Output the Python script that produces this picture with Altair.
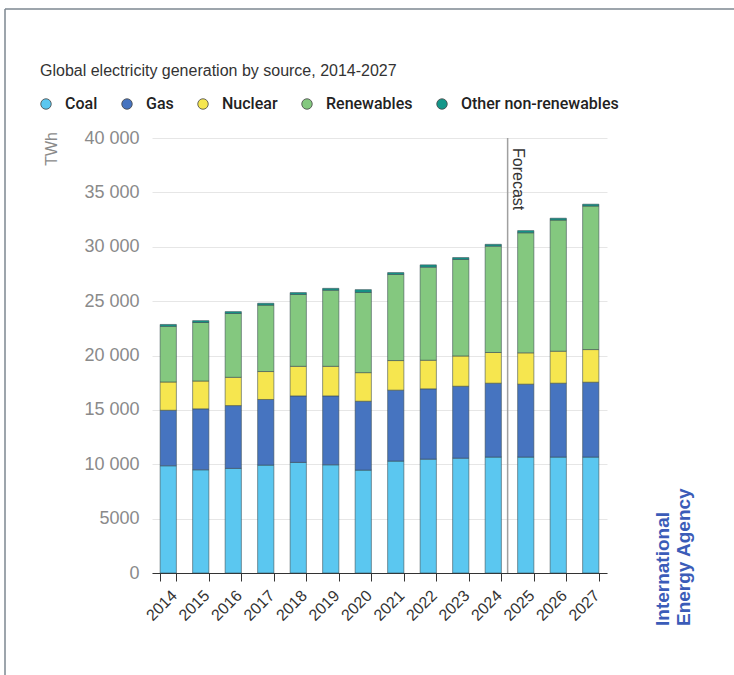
import altair as alt
import pandas as pd

years = ["2014", "2015", "2016", "2017", "2018", "2019", "2020",
         "2021", "2022", "2023", "2024", "2025", "2026", "2027"]
sources = ["Coal", "Gas", "Nuclear", "Renewables", "Other non-renewables"]
colors = ["#5bc7f0", "#4674c0", "#f6e64f", "#84c87f", "#14978a"]

coal = [9860, 9490, 9620, 9920, 10170, 9950, 9460, 10290, 10470, 10560, 10660, 10660, 10660, 10660]
gas = [5105, 5605, 5775, 6035, 6115, 6335, 6335, 6525, 6465, 6615, 6795, 6705, 6795, 6885]
nuclear = [2600, 2560, 2600, 2570, 2720, 2720, 2630, 2720, 2630, 2780, 2820, 2880, 2940, 3000]
renewables = [5120, 5380, 5870, 6110, 6610, 7000, 7380, 7920, 8560, 8880, 9780, 11040, 12060, 13200]
other = [170, 170, 170, 170, 170, 170, 250, 170, 210, 170, 170, 200, 170, 170]

y_ticks = [0, 5000, 10000, 15000, 20000, 25000, 30000, 35000, 40000]

series = [coal, gas, nuclear, renewables, other]
rows = []
for si, (src, vals) in enumerate(zip(sources, series)):
    for yr, v in zip(years, vals):
        rows.append({"year": yr, "source": src, "value": v, "order": si})
df = pd.DataFrame(rows)

W, H = 455, 435
FONT = "Liberation Sans"

x_axis = alt.Axis(title=None, labelAngle=-45, labelAlign="right",
                  labelBaseline="top", labelPadding=6,
                  labelFontSize=16, labelColor="#333333",
                  domainColor="#333333", tickColor="#333333",
                  tickSize=8, tickBand="extent", grid=False)
x_scale = alt.Scale(paddingInner=0.5, paddingOuter=0.25)

bars = alt.Chart(df).mark_bar(stroke="#37474f", strokeWidth=0.8, strokeOpacity=0.7).encode(
    x=alt.X("year:N", sort=years, scale=x_scale, axis=x_axis),
    y=alt.Y("value:Q", stack="zero",
            scale=alt.Scale(domain=[0, 40000], nice=False),
            axis=alt.Axis(title=None, values=y_ticks, grid=True,
                          gridColor="#e6e6e6", domain=False, ticks=False,
                          labelPadding=13, labelFontSize=18, labelColor="#8a8a8a",
                          labelExpr="datum.value >= 10000 ? replace(format(datum.value, ','), ',', ' ') : format(datum.value, 'd')")),
    color=alt.Color("source:N", sort=sources,
                    scale=alt.Scale(domain=sources, range=colors),
                    legend=alt.Legend(title=None, orient="none", direction="horizontal",
                                      legendX=-114, legendY=-42,
                                      symbolType="circle", symbolSize=110,
                                      symbolStrokeColor="#444444", symbolStrokeWidth=0.8,
                                      labelFontSize=16, labelFontWeight=500,
                                      labelColor="#222222", labelOffset=11,
                                      columnPadding=21, labelFont="Roboto")),
    order=alt.Order("order:Q", sort="ascending"),
)

fc_df = pd.DataFrame({"year": ["2025"], "label": ["Forecast"]})
forecast_rule = alt.Chart(fc_df).mark_rule(color="#a0a0a0", strokeWidth=1.5, xOffset=-10).encode(
    x=alt.X("year:N", sort=years, bandPosition=0, scale=x_scale, axis=x_axis),
    y=alt.value(0), y2=alt.value(H),
)
forecast_text = alt.Chart(fc_df).mark_text(
    angle=90, align="left", baseline="bottom", fontSize=16, color="#333333",
    font=FONT, xOffset=-8).encode(
    x=alt.X("year:N", sort=years, bandPosition=0, scale=x_scale, axis=x_axis),
    y=alt.value(10),
    text="label:N",
)

title_df = pd.DataFrame({"t": ["Global electricity generation by source, 2014-2027"]})
title = alt.Chart(title_df).mark_text(
    align="left", baseline="alphabetic", fontSize=16, color="#333333", font=FONT).encode(
    x=alt.value(-112), y=alt.value(-62), text="t:N")

unit_df = pd.DataFrame({"t": ["TWh"]})
unit = alt.Chart(unit_df).mark_text(
    angle=270, align="right", baseline="bottom", fontSize=16, color="#8a8a8a", font=FONT).encode(
    x=alt.value(-92), y=alt.value(-6), text="t:N")

iea_df = pd.DataFrame({"t": ["International\nEnergy Agency"]})
iea = alt.Chart(iea_df).mark_text(
    angle=270, align="left", baseline="top", fontSize=19, fontWeight="bold",
    color="#3b5cb8", font=FONT, lineBreak="\n", lineHeight=21).encode(
    x=alt.value(502), y=alt.value(488), text="t:N")

frame_df = pd.DataFrame({"k": [0]})
frame_top = alt.Chart(frame_df).mark_rule(color="#7d8791", strokeWidth=1.5).encode(
    x=alt.value(-147), x2=alt.value(600), y=alt.value(-129))
frame_left = alt.Chart(frame_df).mark_rule(color="#7d8791", strokeWidth=1.5).encode(
    x=alt.value(-147), y=alt.value(-129), y2=alt.value(560))

chart = alt.layer(
    bars, forecast_rule, forecast_text, title, unit, iea, frame_top, frame_left
).properties(
    width=W, height=H,
    autosize=alt.AutoSizeParams(type="none"),
    padding={"left": 152, "top": 138, "right": 127, "bottom": 102},
    background="white",
).configure(font=FONT).configure_view(stroke=None, strokeWidth=0)

chart.save("out.html", embed_options={"renderer": "svg", "actions": False})
